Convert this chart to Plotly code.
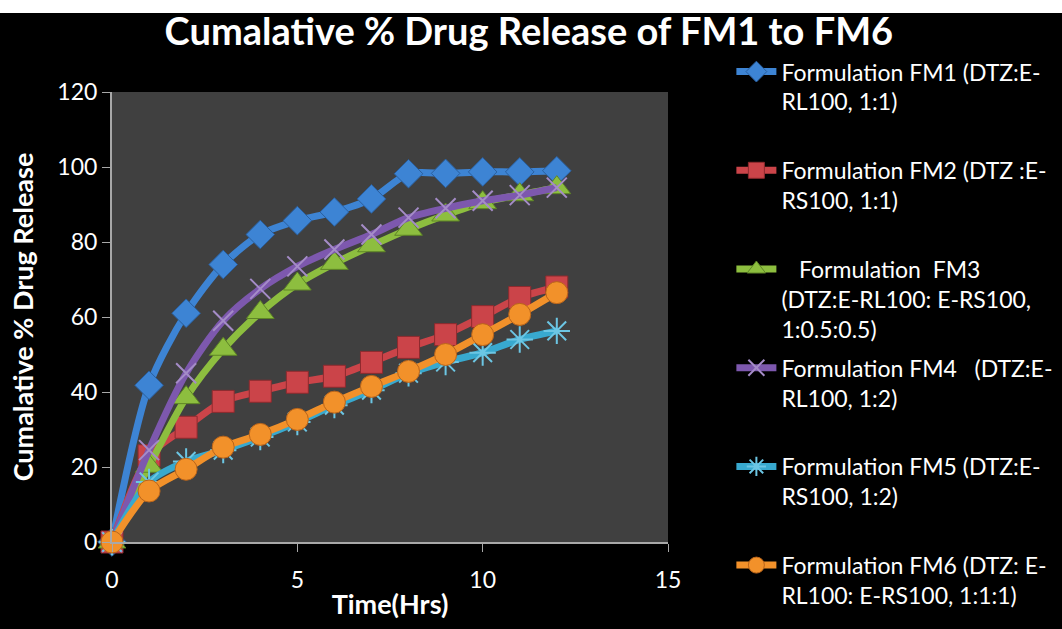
import plotly.graph_objects as go

# Sampling times (hours)
time_hrs = [0, 1, 2, 3, 4, 5, 6, 7, 8, 9, 10, 11, 12]

# Cumulative % drug release for each formulation
fm1 = [0, 41.8, 61.0, 74.0, 82.0, 85.7, 88.0, 91.5, 98.2, 98.3, 98.7, 98.7, 99.0]
fm2 = [0, 23.0, 30.6, 37.5, 40.2, 42.6, 44.2, 47.9, 51.9, 55.3, 60.1, 65.2, 68.0]
fm3 = [0, 20.2, 38.5, 51.4, 61.2, 68.8, 74.3, 79.0, 83.4, 87.2, 90.5, 92.6, 94.5]
fm4 = [0, 24.5, 45.0, 59.0, 67.5, 73.5, 78.0, 82.0, 86.5, 89.0, 91.0, 92.5, 94.5]
fm5 = [0, 16.0, 21.5, 24.5, 28.0, 32.0, 36.5, 40.5, 45.0, 48.0, 50.5, 54.0, 56.3]
fm6 = [0, 13.6, 19.4, 25.3, 28.7, 32.7, 37.3, 41.5, 45.5, 50.0, 55.3, 60.7, 66.5]

series_names = [
    "Formulation FM1 (DTZ:E-<br>RL100, 1:1)<br>\u00a0",
    "Formulation FM2 (DTZ :E-<br>RS100, 1:1)<br>\u00a0",
    "\u00a0\u00a0\u00a0Formulation\u00a0\u00a0FM3<br>(DTZ:E-RL100: E-RS100,<br>1:0.5:0.5)",
    "Formulation FM4\u00a0\u00a0\u00a0(DTZ:E-<br>RL100, 1:2)<br>\u00a0",
    "Formulation FM5 (DTZ:E-<br>RS100, 1:2)<br>\u00a0",
    "Formulation FM6 (DTZ: E-<br>RL100: E-RS100, 1:1:1)<br>\u00a0",
]
series_values = [fm1, fm2, fm3, fm4, fm5, fm6]

styles = [
    dict(color="#3D84D4", symbol="diamond", size=22, lw=1, lc="#2A5F9E"),
    dict(color="#CB4449", symbol="square", size=22, lw=1, lc="#8E2A2E"),
    dict(color="#8DBE3F", symbol="triangle-up", size=24, lw=1, lc="#5E8526"),
    dict(color="#7D58AE", symbol="x-thin", size=20, lw=2, lc="#A58CC8"),
    dict(color="#38A9CF", symbol="asterisk", size=22, lw=2, lc="#6CC6E4"),
    dict(color="#F2912A", symbol="circle", size=22, lw=1, lc="#B9641A"),
]

fig = go.Figure()
for i, (name, vals, st) in enumerate(zip(series_names, series_values, styles)):
    fig.add_trace(go.Scatter(
        x=time_hrs,
        y=vals,
        name=name,
        mode="lines+markers",
        legendgroup=f"g{i}",
        line=dict(color=st["color"], width=7, shape="spline", smoothing=0.8),
        marker=dict(symbol=st["symbol"], size=st["size"], color=st["color"],
                    line=dict(width=st["lw"], color=st["lc"])),
        cliponaxis=False,
    ))

font_family = "Lato, 'Open Sans', sans-serif"

fig.update_layout(
    width=1062,
    height=629,
    paper_bgcolor="black",
    plot_bgcolor="#404040",
    margin=dict(l=112, r=394, t=92, b=87, autoexpand=False),
    font=dict(family=font_family, color="white", size=22),
    title=dict(
        text="<b>Cumalative % Drug Release of FM1 to FM6</b>",
        x=0.498, xanchor="center",
        y=1 - 32 / 629, yanchor="middle", yref="container",
        font=dict(size=38, color="white", family=font_family),
    ),
    showlegend=True,
    legend=dict(
        x=1.114, xanchor="left",
        y=1.093, yanchor="top",
        bgcolor="rgba(0,0,0,0)",
        font=dict(size=23, color="white", family=font_family),
        valign="top",
        tracegroupgap=6,
        itemwidth=40,
        maxheight=629,
    ),
    xaxis=dict(
        range=[0, 15], tick0=0, dtick=5,
        showgrid=False, zeroline=False,
        showline=True, linecolor="#A8A8A8", linewidth=2,
        ticks="outside", ticklen=8, tickcolor="#A8A8A8", tickwidth=1,
        ticklabelstandoff=8,
        tickfont=dict(size=23, color="white"),
        title=dict(text="<b>Time(Hrs)</b>", font=dict(size=27, color="white"), standoff=4),
    ),
    yaxis=dict(
        range=[0, 120], tick0=0, dtick=20,
        showgrid=False, zeroline=False,
        showline=True, linecolor="#A8A8A8", linewidth=2,
        ticks="outside", ticklen=8, tickcolor="#A8A8A8", tickwidth=1,
        tickfont=dict(size=23, color="white"),
        title=dict(text="<b>Cumalative % Drug Release</b>", font=dict(size=27, color="white"), standoff=16),
    ),
    shapes=[
        # white strip along the top edge of the page
        dict(type="rect", xref="paper", yref="paper",
             x0=-112 / 556, x1=950 / 556, y0=1 + 79 / 450, y1=1 + 92 / 450,
             fillcolor="white", line=dict(width=0), layer="above"),
    ],
)

fig.write_html("out.html")
